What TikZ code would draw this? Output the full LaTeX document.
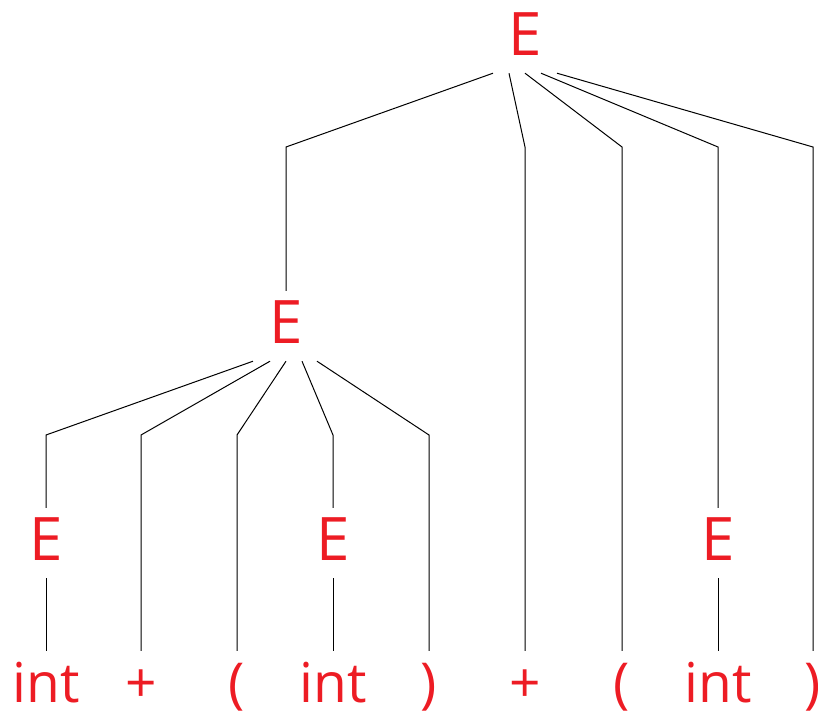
\documentclass[tikz,border=0pt]{standalone}
\usepackage{fontspec}
\setmainfont{Open Sans}
\usepackage{xcolor}
\usepackage{tikz}
\usetikzlibrary{calc}
\definecolor{symred}{RGB}{237,28,36}

\begin{document}
\begin{tikzpicture}[x=1pt, y=-1pt,
    sym/.style={text=symred, font=\fontsize{60}{60}\selectfont, inner sep=0pt, anchor=base},
    nonterm/.style={sym, text height=52pt, text depth=18pt},
    leaf/.style={sym, font=\fontsize{55}{55}\selectfont, text height=51pt, text depth=0pt},
    branch/.style={draw=black, line width=1pt}]
    \useasboundingbox (0,0) rectangle (818,710);

    \node [nonterm] (root) at (525,55) {E};
    \node [nonterm] (expr) at (286,343) {E};
    \node [nonterm] (ea) at (46,560) {E};
    \node [nonterm] (eb) at (333,560) {E};
    \node [nonterm] (ec) at (718,560) {E};

    \node [leaf] (int1) at (46,702) {int};
    \node [leaf] (plus1) at (141,702) {+};
    \node [leaf] (lp1) at (237,702) {(};
    \node [leaf] (int2) at (333,702) {int};
    \node [leaf] (rp1) at (429,702) {)};
    \node [leaf] (plus2) at (525,702) {+};
    \node [leaf] (lp2) at (622,702) {(};
    \node [leaf] (int3) at (718,702) {int};
    \node [leaf] (rp2) at (813,702) {)};

    \draw [branch] ([xshift=-32pt]root.south) -- (expr.north |- 0,147) -- (expr.north);
    \draw [branch] ([xshift=-16pt]root.south) -- (plus2.north |- 0,147) -- (plus2.north);
    \draw [branch] (root.south) -- (lp2.north |- 0,147) -- (lp2.north);
    \draw [branch] ([xshift=16pt]root.south) -- (ec.north |- 0,147) -- (ec.north);
    \draw [branch] ([xshift=32pt]root.south) -- (rp2.north |- 0,147) -- (rp2.north);

    \draw [branch] ([xshift=-33pt]expr.south) -- (ea.north |- 0,435) -- (ea.north);
    \draw [branch] ([xshift=-16pt]expr.south) -- (plus1.north |- 0,435) -- (plus1.north);
    \draw [branch] (expr.south) -- (lp1.north |- 0,435) -- (lp1.north);
    \draw [branch] ([xshift=16pt]expr.south) -- (eb.north |- 0,435) -- (eb.north);
    \draw [branch] ([xshift=31pt]expr.south) -- (rp1.north |- 0,435) -- (rp1.north);

    \draw [branch] (ea.south) -- (int1.north);
    \draw [branch] (eb.south) -- (int2.north);
    \draw [branch] (ec.south) -- (int3.north);
\end{tikzpicture}
\end{document}
